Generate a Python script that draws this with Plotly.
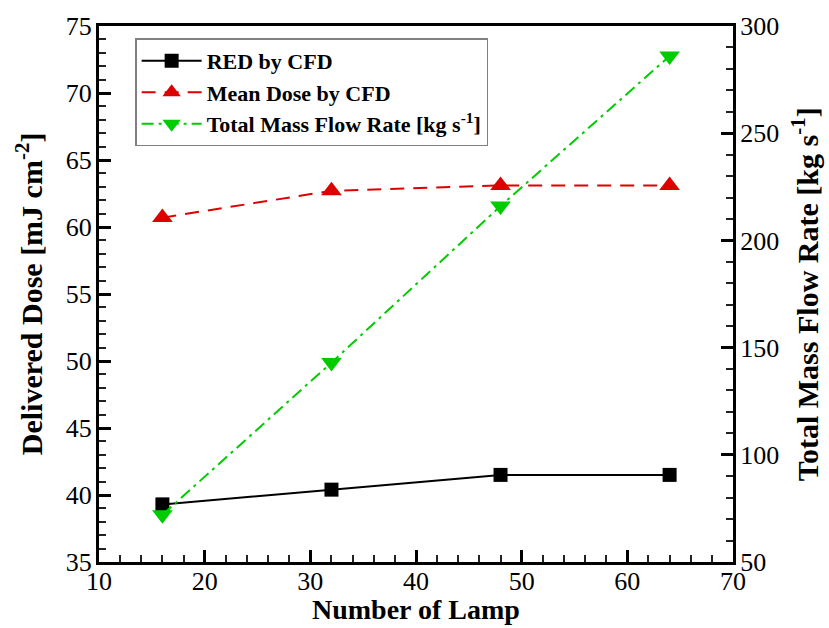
import plotly.graph_objects as go

# Data
lamps = [16, 32, 48, 64]
red_cfd = [39.3, 40.4, 41.5, 41.5]
mean_dose_cfd = [60.7, 62.7, 63.1, 63.1]
mass_flow = [72, 143, 216, 286]

FONT = "Liberation Serif"

fig = go.Figure()

fig.add_trace(go.Scatter(
    x=lamps, y=red_cfd, name="<b>RED by CFD</b>", mode="lines+markers",
    line=dict(color="black", width=2),
    marker=dict(symbol="square", size=14, color="black"),
))
fig.add_trace(go.Scatter(
    x=lamps, y=mean_dose_cfd, name="<b>Mean Dose by CFD</b>", mode="lines+markers",
    line=dict(color="#dd0000", width=2, dash="14px,9px"),
    marker=dict(symbol="triangle-up", size=18, color="#dd0000"),
))
fig.add_trace(go.Scatter(
    x=lamps, y=mass_flow, name="<b>Total Mass Flow Rate [kg s<sup>-1</sup>]</b>",
    mode="lines+markers", yaxis="y2",
    line=dict(color="#00cc00", width=2, dash="12px,5px,3px,5px"),
    marker=dict(symbol="triangle-down", size=18, color="#00cc00"),
))

axis_common = dict(
    showgrid=False, zeroline=False, showline=True, linecolor="black", linewidth=3,
    ticks="inside", ticklen=12, tickwidth=2.5, tickcolor="black",
    tickfont=dict(family=FONT, size=26, color="black"),
)
minor_common = dict(ticks="inside", ticklen=7, tickwidth=1.5, tickcolor="#222")

fig.update_layout(
    width=829, height=628, autosize=False,
    margin=dict(l=99, r=96, t=22, b=66),
    paper_bgcolor="white", plot_bgcolor="white",
    font=dict(family=FONT, color="black"),
    xaxis=dict(range=[10, 70], dtick=10, mirror=True, ticklabelstandoff=-6,
               minor=dict(dtick=2, **minor_common), **axis_common),
    yaxis=dict(range=[35, 75], dtick=5, ticklabelstandoff=-1,
               minor=dict(dtick=1, **minor_common), **axis_common),
    yaxis2=dict(range=[50, 300], dtick=50, overlaying="y", side="right", ticklabelstandoff=-1,
                minor=dict(dtick=10, **minor_common), **axis_common),
    legend=dict(
        x=0.057, y=0.977, xanchor="left", yanchor="top",
        bgcolor="white", bordercolor="#808080", borderwidth=1.5,
        font=dict(family=FONT, size=22, color="black"),
        tracegroupgap=0, itemwidth=60,
    ),
    showlegend=True,
    annotations=[
        dict(text="<b>Number of Lamp</b>", xref="paper", yref="paper", x=0.5, y=-0.089,
             xanchor="center", yanchor="middle", showarrow=False,
             font=dict(family=FONT, size=28, color="black")),
        dict(text="<b>Delivered Dose [mJ cm<sup>-2</sup>]</b>", xref="paper", yref="paper",
             x=-0.11, y=0.5, xanchor="center", yanchor="middle", textangle=-90, showarrow=False,
             font=dict(family=FONT, size=30, color="black")),
        dict(text="<b>Total Mass Flow Rate [kg s<sup>-1</sup>]</b>", xref="paper", yref="paper",
             x=1.114, y=0.5, xanchor="center", yanchor="middle", textangle=-90, showarrow=False,
             font=dict(family=FONT, size=30, color="black")),
    ],
)

fig.write_html("out.html")
